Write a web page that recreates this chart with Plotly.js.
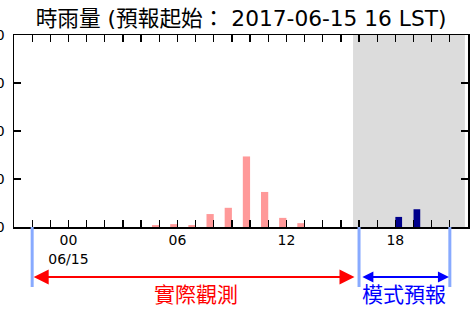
<!DOCTYPE html>
<html>
<head>
<meta charset="utf-8">
<script src="https://cdn.plot.ly/plotly-3.0.1.min.js"></script>
<style>html,body{margin:0;padding:0;background:#fff;}#chart{width:471px;height:311px;}</style>
</head>
<body>
<div id="chart"></div>
<script>
// ---- data ----
var obsHours  = [-2,-1,0,1,2,3,4,5,6,7,8,9,10,11,12,13,14,15];
var obsRain   = [0,0,0,0,0,0,0,0.4,0.6,0.4,2.7,4.0,14.7,7.3,1.9,0.8,0,0];
var fcstHours = [16,17,18,19,20,21];
var fcstRain  = [0,0,2.1,3.7,0,0];
var labelHours = [0,6,12,18];
var labelTexts = ["00<br>06/15","06","12","18"];
var yTicks = [0,10,20,30,40];
var titleText = "時雨量 (預報起始： 2017-06-15 16 LST)";
var obsLabel = "實際觀測";
var fcstLabel = "模式預報";
var markerHours = [-2,16,21];
var obsSpan = [-2,15.75];
var fcstSpan = [16.1,20.95];
var shadeSpan = [15.67,21.83];

// ---- build ticks ----
var tickvals = [], ticktext = [];
for (var h = -3; h <= 22; h++) {
  tickvals.push(h);
  var i = labelHours.indexOf(h);
  ticktext.push(i >= 0 ? labelTexts[i] : "");
}

var font = "DejaVu Sans, Noto Sans CJK TC, sans-serif";

var traces = [
  {type:"bar", x:obsHours, y:obsRain, width:0.4, offset:-0.4,
   marker:{color:"rgba(255,0,0,0.4)", line:{width:0}}, hoverinfo:"skip"},
  {type:"bar", x:fcstHours, y:fcstRain, width:0.37, offset:0,
   marker:{color:"#00008b", line:{width:0}}, hoverinfo:"skip"}
];

var shapes = [
  {type:"rect", xref:"x", yref:"paper", x0:shadeSpan[0], x1:shadeSpan[1], y0:0, y1:1,
   fillcolor:"#dcdcdc", line:{width:0}, layer:"below"}
];
markerHours.forEach(function(h){
  shapes.push({type:"line", xref:"x", yref:"paper", x0:h, x1:h, y0:0, y1:-0.3125,
    line:{color:"#88aaff", width:3}});
});

var arrowY = -0.26, textY = -0.355;
var annotations = [
  {xref:"x", yref:"paper", x:obsSpan[1], y:arrowY, axref:"x", ayref:"paper",
   ax:obsSpan[0], ay:arrowY, text:"", showarrow:true, arrowside:"end+start",
   arrowhead:2, startarrowhead:2, arrowsize:1.5, startarrowsize:1.5, arrowwidth:2, arrowcolor:"red"},
  {xref:"x", yref:"paper", x:fcstSpan[1], y:arrowY, axref:"x", ayref:"paper",
   ax:fcstSpan[0], ay:arrowY, text:"", showarrow:true, arrowside:"end+start",
   arrowhead:2, startarrowhead:2, arrowsize:1.1, startarrowsize:1.1, arrowwidth:2, arrowcolor:"blue"},
  {xref:"x", yref:"paper", x:(obsSpan[0]+16)/2, y:textY, text:obsLabel, showarrow:false,
   font:{family:font, size:21, color:"red"}, xanchor:"center", yanchor:"middle"},
  {xref:"x", yref:"paper", x:(markerHours[1]+markerHours[2])/2, y:textY, text:fcstLabel, showarrow:false,
   font:{family:font, size:21, color:"blue"}, xanchor:"center", yanchor:"middle"}
];

var layout = {
  width:471, height:311,
  margin:{l:14, r:3, t:35, b:84, pad:0},
  paper_bgcolor:"#fff", plot_bgcolor:"rgba(0,0,0,0)",
  showlegend:false, barmode:"overlay",
  font:{family:font, size:14, color:"#000"},
  title:{text:titleText, x:0.5, xref:"paper", xanchor:"center", y:0.94, yref:"container", yanchor:"middle",
    font:{family:font, size:21.7, color:"#000"}},
  xaxis:{range:[-3,22], tickmode:"array", tickvals:tickvals, ticktext:ticktext,
    ticks:"inside", ticklen:7, tickwidth:1.3, tickcolor:"#000",
    showline:true, linecolor:"#000", linewidth:1.5, mirror:"ticks",
    showgrid:false, zeroline:false, tickangle:0, tickfont:{size:14}},
  yaxis:{range:[0,40], tickmode:"array", tickvals:yTicks,
    ticks:"inside", ticklen:7, tickwidth:1.3, tickcolor:"#000",
    showline:true, linecolor:"#000", linewidth:1.5, mirror:"ticks", ticklabelstandoff:5,
    showgrid:false, zeroline:false, tickfont:{size:14}},
  shapes:shapes, annotations:annotations
};

Plotly.newPlot("chart", traces, layout, {staticPlot:true, displayModeBar:false});
</script>
</body>
</html>
